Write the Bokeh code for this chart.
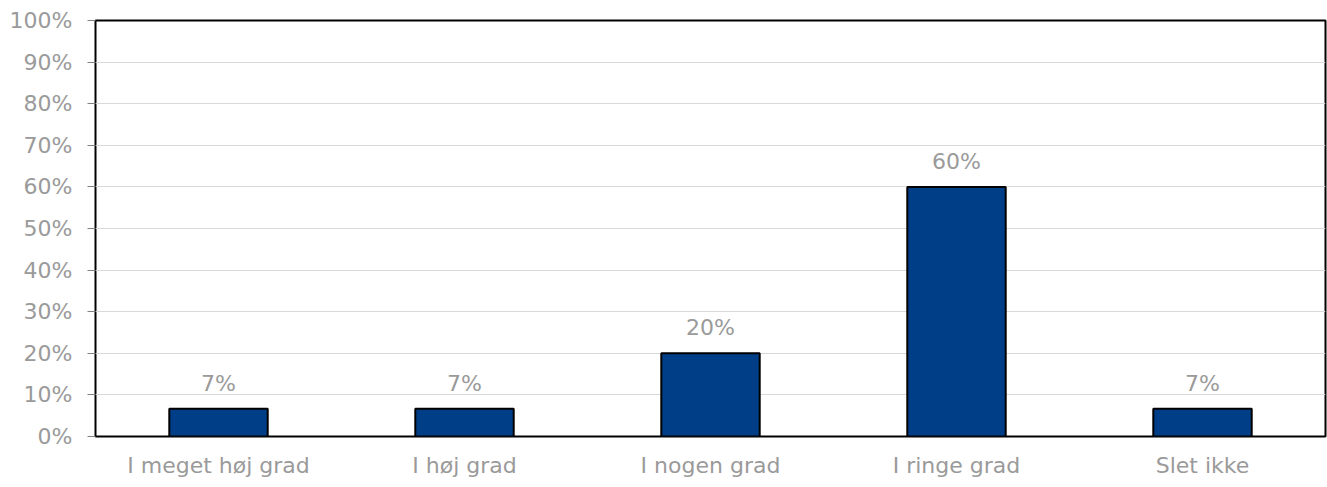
from bokeh.plotting import figure
from bokeh.models import ColumnDataSource, FactorRange, Range1d, FixedTicker, NumeralTickFormatter, LabelSet
from bokeh.core.properties import value
from bokeh.embed import file_html
from bokeh.resources import INLINE

categories = ["I meget høj grad", "I høj grad", "I nogen grad", "I ringe grad", "Slet ikke"]
values = [0.0667, 0.0667, 0.20, 0.60, 0.0667]
labels = ["7%", "7%", "20%", "60%", "7%"]
y_ticks = [0, 0.1, 0.2, 0.3, 0.4, 0.5, 0.6, 0.7, 0.8, 0.9, 1.0]

FONT = "DejaVu Sans"
GREY = "#9a9a9a"

src = ColumnDataSource(dict(cat=categories, val=values, lab=labels))

p = figure(x_range=FactorRange(*categories, range_padding=0), y_range=Range1d(0, 1),
           width=1327, height=487, output_backend="svg", toolbar_location=None,
           min_border_left=95, min_border_right=2, min_border_top=20, min_border_bottom=51)

p.vbar(x="cat", top="val", width=0.4, source=src, fill_color="#003F87",
       line_color="black", line_width=2)

p.add_layout(LabelSet(x="cat", y="val", text="lab", source=src, y_offset=18,
                      text_align="center", text_baseline="alphabetic",
                      text_font=value(FONT), text_font_size="22px", text_color=GREY))

p.outline_line_color = "black"
p.outline_line_width = 2
p.outline_line_alpha = 1

p.xgrid.grid_line_color = None
p.ygrid.grid_line_color = "#d9d9d9"
p.ygrid.ticker = FixedTicker(ticks=y_ticks)

p.yaxis.ticker = FixedTicker(ticks=y_ticks)
p.yaxis.formatter = NumeralTickFormatter(format="0%")
p.yaxis.axis_line_color = None
p.yaxis.major_tick_line_color = "#808080"
p.yaxis.major_tick_out = 8
p.yaxis.major_tick_in = 0
p.yaxis.minor_tick_line_color = None
p.yaxis.major_label_standoff = 15

p.xaxis.axis_line_color = None
p.xaxis.major_tick_line_color = None
p.xaxis.minor_tick_line_color = None
p.xaxis.major_tick_out = 0
p.xaxis.major_tick_in = 0
p.xaxis.major_label_standoff = 16

for ax in (p.xaxis, p.yaxis):
    ax.major_label_text_font = FONT
    ax.major_label_text_font_size = "22px"
    ax.major_label_text_color = GREY

p.background_fill_color = "white"
p.border_fill_color = "white"

open("out.html", "w").write(file_html(p, INLINE))
